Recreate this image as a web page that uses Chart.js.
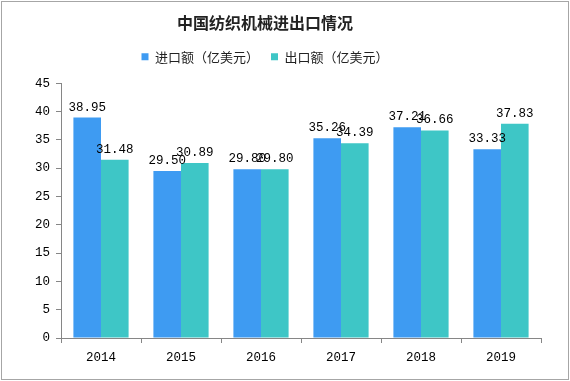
<!DOCTYPE html>
<html>
<head>
<meta charset="utf-8">
<script src="https://cdn.jsdelivr.net/npm/chart.js@4/dist/chart.umd.min.js"></script>
<style>
html,body{margin:0;padding:0;background:#fff;}
#wrap{width:570px;height:381px;position:relative;}
</style>
</head>
<body>
<div id="wrap"><canvas id="c" width="570" height="381"></canvas></div>
<script>
const categories = ['2014', '2015', '2016', '2017', '2018', '2019'];
const importValues = [38.95, 29.50, 29.80, 35.26, 37.21, 33.33];
const exportValues = [31.48, 30.89, 29.80, 34.39, 36.66, 37.83];
const seriesNames = ['进口额（亿美元）', '出口额（亿美元）'];
const chartTitle = '中国纺织机械进出口情况';

const monoFont = "'Liberation Mono', 'DejaVu Sans Mono', monospace";
const cjkFont = "'Noto Sans CJK SC', 'Noto Sans', sans-serif";

const shiftPlugin = {
  id: 'shiftTop',
  beforeLayout(chart) {
    const lg = chart.legend;
    if (lg && !lg._extraFit) {
      const orig = lg.fit;
      lg.fit = function () { orig.apply(this, arguments); this.height += 10; };
      lg._extraFit = true;
    }
  },
  afterLayout(chart) {
    const dx = -23;
    if (chart.titleBlock) { chart.titleBlock.left += dx; chart.titleBlock.right += dx; }
    if (chart.legend) { chart.legend.left += dx; chart.legend.right += dx; }
  }
};

const labelPlugin = {
  id: 'valueLabels',
  afterDatasetsDraw(chart) {
    const ctx = chart.ctx;
    ctx.save();
    ctx.font = '12.5px ' + monoFont;
    ctx.fillStyle = '#000';
    ctx.textAlign = 'center';
    ctx.textBaseline = 'bottom';
    chart.data.datasets.forEach((ds, i) => {
      const meta = chart.getDatasetMeta(i);
      meta.data.forEach((el, j) => {
        ctx.fillText(ds.data[j].toFixed(2), el.x, el.y - 4);
      });
    });
    ctx.restore();
  }
};

const borderPlugin = {
  id: 'frame',
  afterDraw(chart) {
    const ctx = chart.ctx;
    ctx.save();
    ctx.strokeStyle = '#a6a6a6';
    ctx.lineWidth = 1;
    ctx.strokeRect(1.5, 1.5, chart.width - 3, chart.height - 3);
    ctx.restore();
  }
};

new Chart(document.getElementById('c'), {
  type: 'bar',
  data: {
    labels: categories,
    datasets: [
      { label: seriesNames[0], data: importValues, backgroundColor: '#3e9bf2' },
      { label: seriesNames[1], data: exportValues, backgroundColor: '#3ec6c6' }
    ]
  },
  options: {
    responsive: false,
    devicePixelRatio: 1,
    animation: false,
    layout: { padding: { left: 35, right: 29, top: 0, bottom: 0 } },
    datasets: { bar: { categoryPercentage: 0.69, barPercentage: 1.0 } },
    plugins: {
      title: {
        display: true,
        text: chartTitle,
        color: '#222',
        font: { family: cjkFont, size: 16, weight: 'bold' },
        padding: { top: 13, bottom: 6 }
      },
      legend: {
        display: true,
        labels: {
          color: '#222',
          font: { family: cjkFont, size: 13 },
          boxWidth: 7,
          boxHeight: 7,
          padding: 12
        }
      },
      tooltip: { enabled: false }
    },
    scales: {
      x: {
        grid: { display: true, drawOnChartArea: false, offset: true, tickLength: 5, color: '#868686' },
        border: { display: true, color: '#868686' },
        ticks: { color: '#000', font: { family: monoFont, size: 12.5 }, padding: 7 },
        afterFit(s) { s.height = 43; }
      },
      y: {
        min: 0, max: 45,
        grid: { display: true, drawOnChartArea: false, tickLength: 5, color: '#868686' },
        border: { display: true, color: '#868686' },
        ticks: { stepSize: 5, color: '#000', font: { family: monoFont, size: 12.5 }, padding: 6 },
        afterFit(s) { s.width = 26; }
      }
    }
  },
  plugins: [shiftPlugin, labelPlugin, borderPlugin]
});
</script>
</body>
</html>
